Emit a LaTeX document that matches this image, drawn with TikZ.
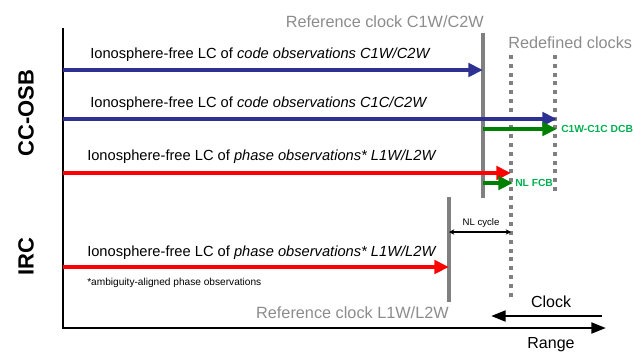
\documentclass[tikz,border=0pt]{standalone}
\usepackage{fontspec}
\setmainfont{Liberation Sans}
\usetikzlibrary{arrows.meta}
\definecolor{cblue}{HTML}{2E3192}
\definecolor{cred}{HTML}{FF0000}
\definecolor{cgreen}{HTML}{008000}
\definecolor{cgtext}{HTML}{00B050}
\definecolor{cgray}{HTML}{808080}
\definecolor{cgtxt}{HTML}{8C8C8C}
\begin{document}
\begin{tikzpicture}[x=0.75pt,y=-0.75pt,
  axisline/.style={line width=2.2pt,line join=miter,-{Triangle[length=11pt,width=8pt]}},
  fat/.style={line width=3pt,-{Triangle[length=11pt,width=10pt]}},
  bluearrow/.style={fat,draw=cblue},
  redarrow/.style={fat,draw=cred,line width=3.6pt},
  greenarrow/.style={fat,draw=cgreen},
  refline/.style={draw=cgray,line width=3pt},
  dotline/.style={draw=cgray,line width=3.2pt,dash pattern=on 3pt off 3.6pt},
  lbl/.style={anchor=west,inner sep=0pt,font=\fontsize{11}{12}\selectfont},
  reflbl/.style={inner sep=0pt,text=cgtxt,font=\fontsize{12.2}{14}\selectfont},
  grn/.style={anchor=west,inner sep=0pt,text=cgtext,font=\bfseries\fontsize{7.7}{9}\selectfont},
  side/.style={rotate=90,inner sep=0pt,font=\bfseries\fontsize{16.5}{18}\selectfont},
]
\useasboundingbox (0,0) rectangle (635,351);
% axes
\coordinate (ytop) at (63,28);
\coordinate (orig) at (63,328);
\coordinate (xend) at (606,328);
\draw[axisline] (ytop) -- (orig) -- (xend);
% reference clocks
\coordinate (r1t) at (483,33); \coordinate (r1b) at (483,198);
\coordinate (r2t) at (449,197); \coordinate (r2b) at (449,302);
\draw[refline] (r1t) -- (r1b);
\draw[refline] (r2t) -- (r2b);
% redefined clocks
\coordinate (d1t) at (511,55); \coordinate (d1b) at (511,298);
\coordinate (d2t) at (555,55); \coordinate (d2b) at (555,192);
\draw[dotline] (d1t) -- (d1b);
\draw[dotline] (d2t) -- (d2b);
% arrows
\coordinate (b1s) at (63,70);  \coordinate (b1e) at (483,70);
\coordinate (b2s) at (63,119); \coordinate (b2e) at (557,119);
\coordinate (r1s) at (63,173); \coordinate (r1e) at (511,173);
\coordinate (r2s) at (63,267); \coordinate (r2e) at (449,267);
\coordinate (g1s) at (483,129); \coordinate (g1e) at (557,129);
\coordinate (g2s) at (483,183); \coordinate (g2e) at (513,183);
\draw[bluearrow] (b1s) -- (b1e);
\draw[bluearrow] (b2s) -- (b2e);
\draw[redarrow] (r1s) -- (r1e);
\draw[redarrow] (r2s) -- (r2e);
\draw[greenarrow] (g1s) -- (g1e);
\draw[greenarrow] (g2s) -- (g2e);
% labels
\node[lbl] (t1) at (90,55) {Ionosphere-free LC of \textit{code observations C1W/C2W}};
\node[lbl] (t2) at (90,104) {Ionosphere-free LC of \textit{code observations C1C/C2W}};
\node[lbl] (t3) at (87,157) {Ionosphere-free LC of \textit{phase observations* L1W/L2W}};
\node[lbl] (t4) at (87,253) {Ionosphere-free LC of \textit{phase observations* L1W/L2W}};
\node[anchor=west,inner sep=0pt,font=\fontsize{7.6}{9}\selectfont] (fn) at (87,283) {*ambiguity-aligned phase observations};
\node[reflbl,anchor=east] (rc1) at (484,22) {Reference clock C1W/C2W};
\node[reflbl,anchor=west] (rdc) at (508,43) {Redefined clocks};
\node[reflbl,anchor=east] (rc2) at (449,313) {Reference clock L1W/L2W};
\node[grn] (dcb) at (561,129) {C1W-C1C DCB};
\node[grn] (fcb) at (515,183) {NL FCB};
% NL cycle
\coordinate (n1) at (449,232); \coordinate (n2) at (511,232);
\draw[line width=0.8pt,{Stealth[length=4pt,width=4pt]}-{Stealth[length=4pt,width=4pt]}] (n1) -- (n2);
\node[inner sep=0pt,font=\fontsize{7.2}{8}\selectfont] (nlc) at (481,223) {NL cycle};
% clock / range
\coordinate (cks) at (602,316); \coordinate (cke) at (491,316);
\draw[line width=2.2pt,-{Triangle[length=11pt,width=8pt]}] (cks) -- (cke);
\node[inner sep=0pt,font=\fontsize{12}{13}\selectfont] (clk) at (551,302) {Clock};
\node[inner sep=0pt,font=\fontsize{12}{13}\selectfont] (rng) at (551,345) {Range};
% side labels
\node[side] (cc) at (26,113) {CC-OSB};
\node[side] (irc) at (26,257) {IRC};
\end{tikzpicture}
\end{document}
